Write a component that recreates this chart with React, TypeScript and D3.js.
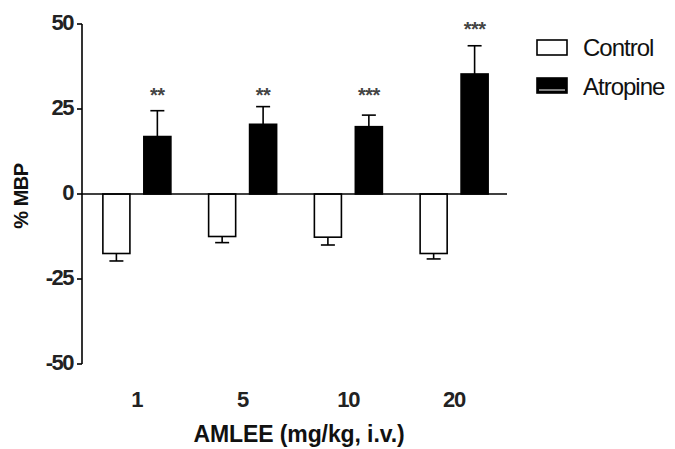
import * as d3 from "d3";
import {useMemo} from "react";

const doses = ["1", "5", "10", "20"];
const groups = ["Control", "Atropine"];
const controlMean = [-17.5, -12.5, -12.7, -17.5];
const controlErr = [2.2, 1.8, 2.3, 1.6];
const atropineMean = [16.9, 20.5, 19.8, 35.3];
const atropineErr = [7.6, 5.2, 3.4, 8.3];
const sigLabels = ["**", "**", "***", "***"];
const sigLevels = [27, 27, 27, 46.5];
const yTicks = [50, 25, 0, -25, -50];
const yTickLabels = ["50", "25", "0", "-25", "-50"];

const W = 675, H = 449;
const FONT = "'Liberation Sans', Arial, Helvetica, sans-serif";

export default function App() {
    const y = useMemo(() => d3.scaleLinear().domain([-50, 50]).range([364, 24]), []);
    const x = useMemo(() => d3.scaleBand().domain(doses).range([84, 507]), []);
    const inner = useMemo(() => d3.scaleBand().domain(groups).range([0, 68]).paddingInner(0.34), []);

    const rows = doses.map((d, i) => ({
        dose: d,
        vals: [
            {g: "Control", mean: controlMean[i], err: controlErr[i], fill: "#fff"},
            {g: "Atropine", mean: atropineMean[i], err: atropineErr[i], fill: "#000"},
        ],
        sig: sigLabels[i],
        sigY: sigLevels[i],
    }));

    const cap = 7;

    return (
        <svg width={W} height={H} style={{position: "absolute", left: 0, top: 0, background: "#fff"}}
             fontFamily={FONT}>
            {/* y axis */}
            <line x1={82} x2={82} y1={y(50)} y2={y(-50)} stroke="#000" strokeWidth={1.6}/>
            {yTicks.map((t, i) => (
                <g key={t} transform={`translate(82,${y(t)})`}>
                    <line x1={-5} x2={0} stroke="#000" strokeWidth={1.6}/>
                    <text x={-9} dy="0.25em" textAnchor="end" fontSize={22} fontWeight="bold"
                          letterSpacing={-1.5} fill="#222">{yTickLabels[i]}</text>
                </g>
            ))}
            <text transform={`translate(28,196) rotate(-90)`} textAnchor="middle" fontSize={20}
                  fontWeight="bold" letterSpacing={-0.5} fill="#111">% MBP</text>

            {/* bars */}
            {rows.map(r => {
                const gx = x(r.dose)! + x.bandwidth() / 2 - 34;
                return (
                    <g key={r.dose}>
                        {r.vals.map(v => {
                            const bx = gx + inner(v.g)!;
                            const cx = bx + inner.bandwidth() / 2;
                            const top = Math.min(y(v.mean), y(0));
                            const h = Math.abs(y(v.mean) - y(0));
                            const ey = y(v.mean + (v.mean > 0 ? v.err : -v.err));
                            return (
                                <g key={v.g}>
                                    <line x1={cx} x2={cx} y1={y(v.mean)} y2={ey} stroke="#000" strokeWidth={1.6}/>
                                    <line x1={cx - cap} x2={cx + cap} y1={ey} y2={ey} stroke="#000" strokeWidth={1.6}/>
                                    <rect x={bx} y={top} width={inner.bandwidth()} height={h} fill={v.fill}
                                          stroke="#000" strokeWidth={1.6}/>
                                </g>
                            );
                        })}
                        <text x={gx + inner("Atropine")! + inner.bandwidth() / 2} y={y(r.sigY)}
                              textAnchor="middle" fontSize={20} fontWeight="bold" fill="#444"
                              letterSpacing={-0.5}>{r.sig}</text>
                        <text x={x(r.dose)! + x.bandwidth() / 2} y={407} textAnchor="middle" fontSize={22}
                              fontWeight="bold" letterSpacing={-1.2} fill="#222">{r.dose}</text>
                    </g>
                );
            })}

            {/* x axis */}
            <line x1={82} x2={507} y1={y(0)} y2={y(0)} stroke="#000" strokeWidth={1.6}/>
            <text x={299} y={442} textAnchor="middle" fontSize={23} fontWeight="bold" fill="#111"
                  letterSpacing={-0.1}>AMLEE (mg/kg, i.v.)</text>

            {/* legend */}
            <rect x={537} y={40} width={30} height={15} fill="#fff" stroke="#000" strokeWidth={1.6}/>
            <text x={583} y={56} fontSize={24} letterSpacing={-1} fill="#111">Control</text>
            <rect x={537} y={78} width={30} height={15} fill="#000" stroke="#000" strokeWidth={1.6}/>
            <line x1={539} x2={565} y1={90} y2={90} stroke="#fff" strokeWidth={1}/>
            <text x={583} y={95} fontSize={24} letterSpacing={-1} fill="#111">Atropine</text>
        </svg>
    );
}
